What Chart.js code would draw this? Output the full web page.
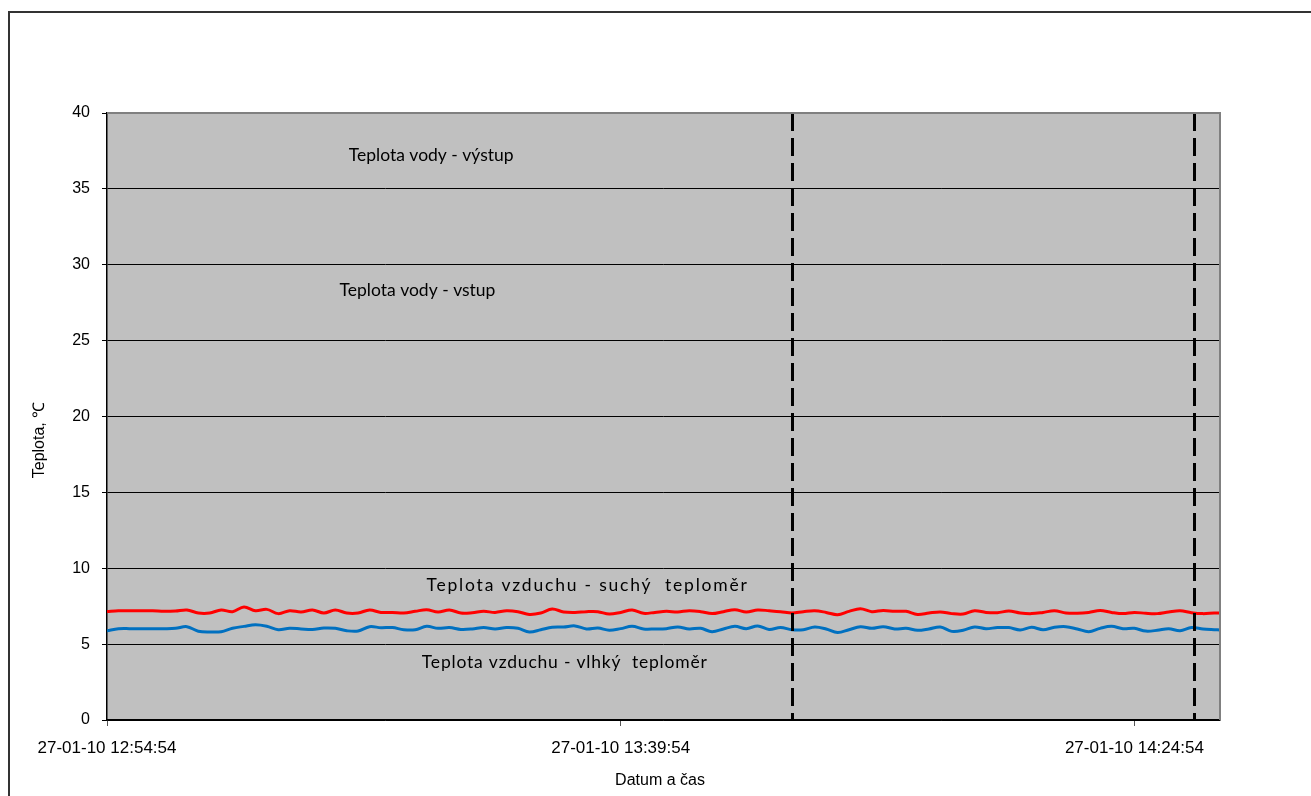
<!DOCTYPE html>
<html>
<head>
<meta charset="utf-8">
<script src="https://cdn.jsdelivr.net/npm/chart.js@4.4.1/dist/chart.umd.min.js"></script>
<style>
  html, body { margin: 0; padding: 0; background: #ffffff; }
  canvas { display: block; }
</style>
</head>
<body>
<canvas id="chart" width="1311" height="796"></canvas>
<script>
// Air temperature readings, one per minute from 27-01-10 12:54:54 (last at +97.5 min)
const dryBulb = [
  7.15, 7.20, 7.20, 7.20, 7.20, 7.16, 7.18, 7.25, 7.05, 7.05,
  7.25, 7.14, 7.45, 7.20, 7.29, 7.01, 7.20, 7.12, 7.25, 7.05,
  7.25, 7.05, 7.05, 7.25, 7.09, 7.09, 7.05, 7.16, 7.27, 7.12,
  7.25, 7.05, 7.07, 7.16, 7.09, 7.20, 7.14, 6.96, 7.05, 7.31,
  7.12, 7.09, 7.14, 7.14, 6.98, 7.09, 7.25, 7.03, 7.09, 7.16,
  7.12, 7.20, 7.14, 7.01, 7.14, 7.27, 7.12, 7.25, 7.20, 7.14,
  7.05, 7.14, 7.20, 7.09, 6.94, 7.16, 7.33, 7.14, 7.22, 7.16,
  7.16, 6.96, 7.05, 7.12, 7.01, 6.98, 7.20, 7.09, 7.07, 7.18,
  7.05, 7.01, 7.09, 7.20, 7.05, 7.03, 7.09, 7.22, 7.09, 7.01,
  7.09, 7.03, 7.01, 7.12, 7.20, 7.07, 7.01, 7.05, 7.05
];
const wetBulb = [
  5.88, 6.01, 6.02, 6.02, 6.02, 6.02, 6.04, 6.15, 5.85, 5.80,
  5.82, 6.05, 6.17, 6.28, 6.18, 5.95, 6.05, 6.00, 5.96, 6.06,
  6.04, 5.88, 5.86, 6.15, 6.08, 6.09, 5.95, 5.95, 6.17, 6.04,
  6.09, 5.97, 6.00, 6.09, 6.00, 6.09, 6.04, 5.80, 5.95, 6.11,
  6.13, 6.20, 6.00, 6.06, 5.91, 6.02, 6.17, 6.00, 6.00, 6.02,
  6.13, 6.00, 6.04, 5.82, 6.00, 6.17, 6.02, 6.20, 5.97, 6.09,
  5.95, 5.95, 6.13, 6.00, 5.76, 5.95, 6.15, 6.04, 6.15, 6.00,
  6.04, 5.91, 6.00, 6.13, 5.84, 5.91, 6.13, 6.02, 6.09, 6.09,
  5.93, 6.11, 5.95, 6.11, 6.15, 6.00, 5.82, 6.04, 6.17, 6.02,
  6.04, 5.86, 5.91, 6.02, 5.88, 6.09, 6.00, 5.95, 5.93
];
// Minutes since the first reading
const sampleMinutes = [...Array(98).keys(), 97.5];

const xTickMinutes = [0, 45, 90];
const xTickLabels = ['27-01-10 12:54:54', '27-01-10 13:39:54', '27-01-10 14:24:54'];
const yTicks = [0, 5, 10, 15, 20, 25, 30, 35, 40];

// Vertical dashed markers (minutes)
const markerMinutes = [60, 95.25];

// Series captions placed inside the plot
const captionTexts = [
  'Teplota vody - výstup',
  'Teplota vody - vstup',
  'Teplota vzduchu - suchý  teploměr',
  'Teplota vzduchu - vlhký  teploměr'
];
const captionMinutes = [28.4, 27.2, 42.1, 40.1];
const captionValues = [37.2, 28.3, 8.9, 3.8];
// letter spacing (px) used when drawing each caption
const captionSpacing = [0, 0, 1.8, 0.8];

const AXIS_FONT = '"Liberation Sans", Arial, sans-serif';

const frame = {
  id: 'frame',
  beforeDraw(chart) {
    const { ctx, chartArea: a } = chart;
    ctx.save();
    ctx.fillStyle = '#ffffff';
    ctx.fillRect(0, 0, chart.width, chart.height);
    ctx.fillStyle = '#c0c0c0';
    ctx.fillRect(a.left, a.top, a.right - a.left, a.bottom - a.top);
    // outer chart border
    ctx.strokeStyle = '#333333';
    ctx.lineWidth = 2;
    ctx.strokeRect(9, 12, 1400, 900);
    ctx.restore();
  },
  afterDatasetsDraw(chart) {
    const { ctx, chartArea: a, scales: { x, y } } = chart;
    ctx.save();
    // dashed markers
    ctx.strokeStyle = '#000000';
    ctx.lineWidth = 3;
    ctx.setLineDash([18, 7]);
    markerMinutes.forEach(m => {
      const px = Math.round(x.getPixelForValue(m)) + 0.5;
      ctx.beginPath();
      ctx.moveTo(px, a.top);
      ctx.lineTo(px, a.bottom);
      ctx.stroke();
    });
    ctx.setLineDash([]);
    // top and right plot border
    ctx.strokeStyle = '#808080';
    ctx.lineWidth = 2;
    ctx.beginPath();
    ctx.moveTo(a.left, a.top);
    ctx.lineTo(a.right, a.top);
    ctx.lineTo(a.right, a.bottom);
    ctx.stroke();
    // captions
    ctx.fillStyle = '#000000';
    ctx.font = '17.5px Lato, "Open Sans", sans-serif';
    ctx.textAlign = 'center';
    ctx.textBaseline = 'middle';
    captionTexts.forEach((t, i) => {
      ctx.letterSpacing = captionSpacing[i] + 'px';
      ctx.fillText(t, x.getPixelForValue(captionMinutes[i]), y.getPixelForValue(captionValues[i]));
    });
    ctx.letterSpacing = '0px';
    // axis titles
    ctx.font = '16px ' + AXIS_FONT;
    ctx.fillText('Datum a čas', 660, 781);
    ctx.translate(40, 440);
    ctx.rotate(-Math.PI / 2);
    ctx.fillText('Teplota, ℃', 0, 0);
    ctx.restore();
  }
};

new Chart(document.getElementById('chart'), {
  type: 'line',
  data: {
    datasets: [
      {
        label: 'Teplota vzduchu - suchý teploměr',
        data: sampleMinutes.map((m, i) => ({ x: m, y: dryBulb[i] })),
        borderColor: '#ff0000',
        borderWidth: 3,
        pointRadius: 0,
        tension: 0.35,
        fill: false
      },
      {
        label: 'Teplota vzduchu - vlhký teploměr',
        data: sampleMinutes.map((m, i) => ({ x: m, y: wetBulb[i] })),
        borderColor: '#0070c0',
        borderWidth: 3,
        pointRadius: 0,
        tension: 0.35,
        fill: false
      }
    ]
  },
  options: {
    responsive: false,
    animation: false,
    devicePixelRatio: 1,
    layout: { padding: { left: 0, top: 113, right: 91, bottom: 0 } },
    plugins: { legend: { display: false }, tooltip: { enabled: false }, title: { display: false } },
    scales: {
      x: {
        type: 'linear',
        min: 0,
        max: 97.5,
        afterBuildTicks: s => { s.ticks = xTickMinutes.map(v => ({ value: v })); },
        afterFit: s => { s.height = 76; },
        ticks: {
          autoSkip: false,
          maxRotation: 0,
          padding: 12,
          color: '#000000',
          font: { family: AXIS_FONT, size: 17 },
          callback: v => xTickLabels[xTickMinutes.indexOf(v)]
        },
        grid: { drawOnChartArea: false, drawTicks: true, tickLength: 6, color: '#555555' },
        border: { display: true, color: '#000000', width: 1.5 }
      },
      y: {
        min: 0,
        max: 40,
        afterBuildTicks: s => { s.ticks = yTicks.map(v => ({ value: v })); },
        afterFit: s => { s.width = 107; },
        ticks: {
          padding: 12,
          color: '#000000',
          font: { family: AXIS_FONT, size: 16 }
        },
        grid: { color: '#000000', lineWidth: 1, tickLength: 5 },
        border: { display: true, color: '#000000', width: 1.5 }
      }
    }
  },
  plugins: [frame]
});
</script>
</body>
</html>
